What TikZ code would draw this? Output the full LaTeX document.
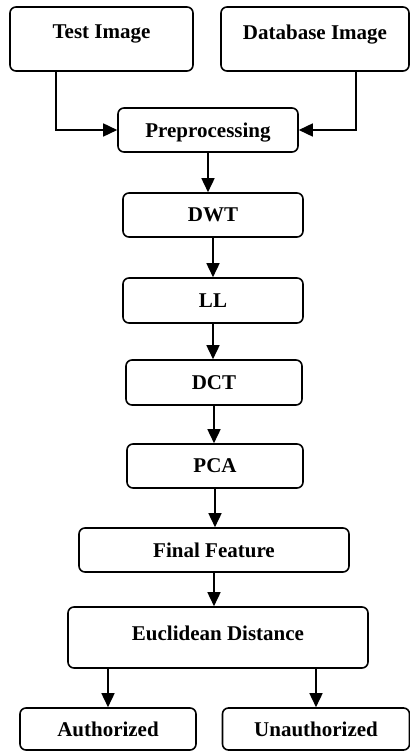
\documentclass[tikz,border=0pt]{standalone}
\usepackage{fontspec}
\setmainfont{Liberation Serif}
\usetikzlibrary{arrows.meta}

\begin{document}
\begin{tikzpicture}[x=1pt,y=-1pt,
    blk/.style={draw,rounded corners=6pt,line width=1.6pt,inner sep=0pt,
      font=\fontsize{21}{25}\selectfont\bfseries},
    arr/.style={line width=1.6pt,-{Triangle[length=14pt,width=13pt]}}]
  \useasboundingbox (0,0) rectangle (409,751);
  % inputs
  \node[blk,minimum width=183,minimum height=64,text depth=14pt] (test) at (101.5,39) {Test Image};
  \node[blk,minimum width=188,minimum height=64,text depth=14pt] (db)   at (315,39)   {Database Image};
  % processing chain
  \node[blk,minimum width=180,minimum height=44,text height=20pt] (pre) at (208,130) {Preprocessing};
  \node[blk,minimum width=180,minimum height=44] (dwt) at (213,215)   {DWT};
  \node[blk,minimum width=180,minimum height=45] (ll)  at (213,300.5) {LL};
  \node[blk,minimum width=176,minimum height=45] (dct) at (214,382.5) {DCT};
  \node[blk,minimum width=176,minimum height=44] (pca) at (215,466)   {PCA};
  \node[blk,minimum width=270,minimum height=44] (ff)  at (214,550)   {Final Feature};
  \node[blk,minimum width=300,minimum height=61,text depth=8pt] (ed) at (218,637.5) {Euclidean Distance};
  % decision
  \node[blk,minimum width=176,minimum height=42] (auth)   at (108,729) {Authorized};
  \node[blk,minimum width=187,minimum height=42] (unauth) at (316,729) {Unauthorized};
  \draw[arr] (test.south -| 56,0) |- (pre.west);
  \draw[arr] (db.south -| 356,0) |- (pre.east);
  \foreach \a/\b in {pre/dwt,dwt/ll,ll/dct,dct/pca,pca/ff,ff/ed}
    \draw[arr] (\a.south) -- (\a.south |- \b.north);
  \draw[arr] (ed.south -| auth) -- (auth.north);
  \draw[arr] (ed.south -| unauth) -- (unauth.north);
\end{tikzpicture}
\end{document}
